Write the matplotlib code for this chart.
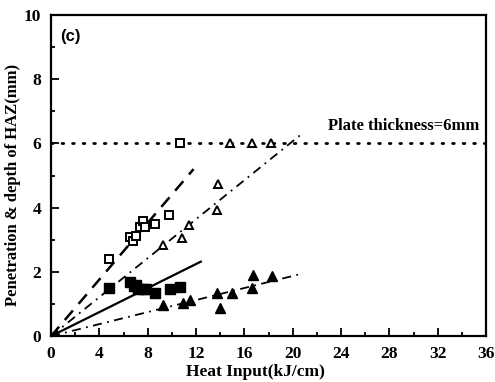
import numpy as np
import matplotlib
matplotlib.use("Agg")
import matplotlib.pyplot as plt
from matplotlib.ticker import MultipleLocator

# open squares: penetration (upper set)
sq_open_x = [4.8, 6.5, 6.8, 7.0, 7.4, 7.65, 7.8, 8.6, 9.8, 10.65]
sq_open_y = [2.40, 3.10, 2.96, 3.13, 3.40, 3.60, 3.40, 3.50, 3.76, 6.0]

# filled squares
sq_fill_x = [4.8, 6.55, 6.9, 7.05, 7.2, 7.6, 7.9, 8.6, 9.85, 10.7]
sq_fill_y = [1.51, 1.69, 1.57, 1.60, 1.46, 1.46, 1.46, 1.33, 1.48, 1.54]

# open triangles
tri_open_x = [9.3, 10.85, 11.45, 13.75, 13.85, 14.85, 16.6, 18.2]
tri_open_y = [2.85, 3.06, 3.47, 3.94, 4.73, 6.0, 6.0, 6.0]

# filled triangles
tri_fill_x = [9.3, 10.9, 11.5, 13.75, 13.95, 15.0, 16.6, 16.7, 18.25]
tri_fill_y = [0.97, 1.04, 1.12, 1.33, 0.89, 1.35, 1.51, 1.90, 1.86]

# fitted lines (end points)
fit_sq_open = ([0.0, 11.8], [0.0, 5.2])
fit_tri_open = ([0.0, 20.6], [0.0, 6.25])
fit_sq_fill = ([0.0, 12.4], [0.0, 2.32])
fit_tri_fill = ([0.0, 20.6], [0.0, 1.93])

plate = 6.0

serif = ["Liberation Serif", "DejaVu Serif"]

fig = plt.figure(figsize=(4.95, 3.82), dpi=100)
ax = fig.add_axes([0.103, 0.120, 0.879, 0.841])

ax.plot([0, 36], [plate, plate], color="black", lw=2.0, ls=(0, (0.6, 3.2)),
        dash_capstyle="round")

ax.plot(*fit_sq_open, color="black", lw=1.8, ls=(0, (5, 3.5)))
ax.plot(*fit_tri_open, color="black", lw=1.3, ls=(0, (5, 3, 1, 3)))
ax.plot(*fit_sq_fill, color="black", lw=1.6, ls="-")
ax.plot(*fit_tri_fill, color="black", lw=1.3, ls=(0, (5, 3, 1, 3)))

ax.plot(sq_open_x, sq_open_y, ls="none", marker="s", ms=6, mfc="white",
        mec="black", mew=1.4)
ax.plot(sq_fill_x, sq_fill_y, ls="none", marker="s", ms=6.5, mfc="black",
        mec="black")
ax.plot(tri_open_x, tri_open_y, ls="none", marker="^", ms=6, mfc="white",
        mec="black", mew=1.4)
ax.plot(tri_fill_x, tri_fill_y, ls="none", marker="^", ms=7, mfc="black",
        mec="black")

ax.set_xlim(0, 36)
ax.set_ylim(0, 10)
ax.xaxis.set_major_locator(MultipleLocator(4))
ax.xaxis.set_minor_locator(MultipleLocator(2))
ax.yaxis.set_major_locator(MultipleLocator(2))
ax.yaxis.set_minor_locator(MultipleLocator(1))
ax.tick_params(which="both", direction="in", width=1.3, top=False, right=False)
ax.tick_params(which="major", length=6, pad=7)
ax.tick_params(which="minor", length=3)
for s in ax.spines.values():
    s.set_linewidth(1.6)

for lab in ax.get_xticklabels() + ax.get_yticklabels():
    lab.set_fontfamily(serif)
    lab.set_fontweight("bold")
    lab.set_fontsize(12.5)

fig.text(255 / 495, 1 - 372 / 382, "Heat Input(kJ/cm)", family=serif,
         fontweight="bold", fontsize=12.5, ha="center", va="center")
fig.text(13 / 495, 1 - 185 / 382, "Penetration & depth of HAZ(mm)",
         family=serif, fontweight="bold", fontsize=12, rotation=90,
         ha="center", va="center")

ax.text(0.02, 0.955, "(c)", transform=ax.transAxes, ha="left", va="top",
        family=["Liberation Sans", "DejaVu Sans"], fontweight="bold",
        fontsize=12)
ax.text(35.4, 6.3, "Plate thickness=6mm", ha="right", va="bottom",
        family=serif, fontweight="bold", fontsize=12)

fig.savefig("out.png", dpi=100)
